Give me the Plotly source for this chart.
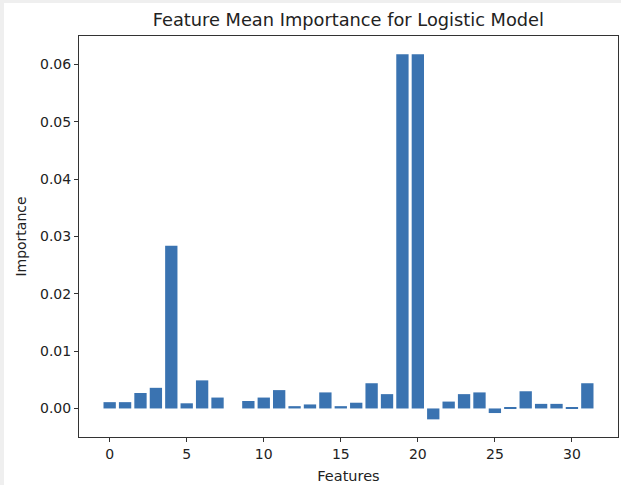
import plotly.graph_objects as go

features = list(range(32))
importance = [0.0011, 0.0011, 0.0027, 0.0036, 0.0284, 0.0009, 0.0049, 0.0019,
              0.0, 0.0013, 0.0019, 0.0032, 0.0004, 0.0007, 0.0028, 0.0004,
              0.0010, 0.0044, 0.0025, 0.0618, 0.0618, -0.0019, 0.0012, 0.0025,
              0.0028, -0.0008, 0.0002, 0.0030, 0.0008, 0.0008, 0.0001, 0.0044]

title_text = "Feature Mean Importance for Logistic Model"
x_label = "Features"
y_label = "Importance"

FONT = "DejaVu Sans"
TXT = "#222222"

fig = go.Figure()
fig.add_trace(go.Bar(x=features, y=importance, width=0.8,
                     marker=dict(color="#3a73b1", line=dict(width=0))))

axis_common = dict(showline=True, linecolor="#333333", linewidth=1, mirror=True,
                   ticks="outside", ticklen=4, tickcolor="#333333", showgrid=False,
                   zeroline=False, tickfont=dict(family=FONT, size=14, color=TXT))

fig.update_layout(
    width=621, height=485,
    margin=dict(l=79, r=3, t=36, b=48),
    paper_bgcolor="white", plot_bgcolor="white",
    title=dict(text=title_text, x=0.561, xanchor="center", y=0.960, yanchor="middle",
               font=dict(family=FONT, size=17.8, color=TXT)),
    xaxis=dict(range=[-1.99, 32.99], tickmode="linear", tick0=0, dtick=5,
               title=dict(text=x_label, standoff=10,
                          font=dict(family=FONT, size=14.5, color=TXT)),
               **axis_common),
    yaxis=dict(range=[-0.00498, 0.06498], tickmode="linear", tick0=0, dtick=0.01,
               tickformat=".2f",
               title=dict(text=y_label, standoff=10,
                          font=dict(family=FONT, size=14, color=TXT)),
               **axis_common),
    showlegend=False,
    shapes=[
        dict(type="rect", xref="paper", yref="paper", x0=-79/539, x1=-75/539,
             y0=-48/401, y1=(401+36)/401, fillcolor="#efefef", line=dict(width=0), layer="below"),
        dict(type="rect", xref="paper", yref="paper", x0=-79/539, x1=(539+3)/539,
             y0=(401+33)/401, y1=(401+36)/401, fillcolor="#efefef", line=dict(width=0), layer="below"),
    ],
)

fig.write_html("out.html")
